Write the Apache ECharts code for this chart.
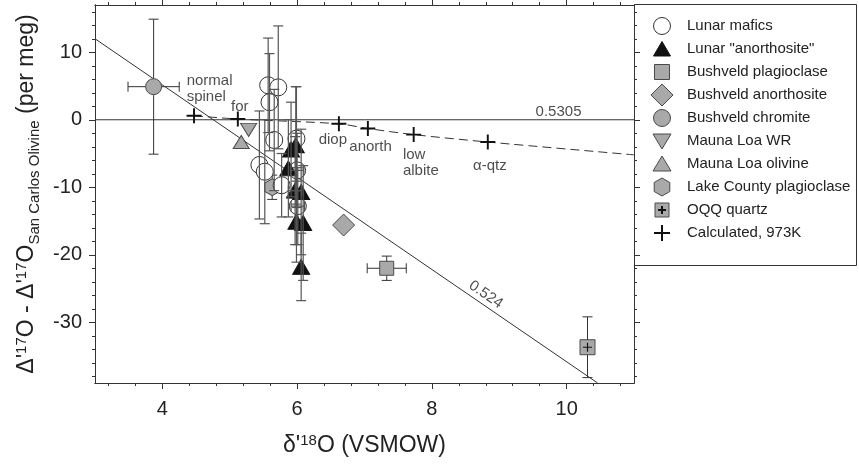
<!DOCTYPE html>
<html><head><meta charset="utf-8">
<script src="https://cdn.jsdelivr.net/npm/echarts@6/dist/echarts.min.js"></script>
<style>html,body{margin:0;padding:0;background:#fff}#c{width:859px;height:465px}</style>
</head><body><div id="c"></div>
<script>
// ---------- data ----------
const xTicksMajor = [4, 6, 8, 10];
const xTicksMinor = [3.2,3.6,4.0,4.4,4.8,5.2,5.6,6.0,6.4,6.8,7.2,7.6,8.0,8.4,8.8,9.2,9.6,10.0,10.4,10.8];
const yTicksMajor = [-30, -20, -10, 0, 10];
const yTicksMinor = [-38,-36,-34,-32,-30,-28,-26,-24,-22,-20,-18,-16,-14,-12,-10,-8,-6,-4,-2,0,2,4,6,8,10,12,14,16];

// [x, y, yErr, xErr]
const lunarMafics = [
  [5.57, 5.1, 7.0, 0], [5.72, 4.8, 9.1, 0], [5.59, 2.6, 7.2, 0], [5.66, -3.0, 7.5, 0],
  [5.99, -2.8, 7.7, 0], [5.44, -6.7, 8.0, 0], [5.52, -7.7, 7.7, 0], [5.77, -9.7, 4.7, 0],
  [6.00, -7.5, 5.5, 0.1], [6.01, -12.8, 5.7, 0.1]
];
const lunarAnorthosite = [
  [5.91, -4.4, 7.0, 0], [5.98, -3.8, 8.7, 0], [5.87, -7.2, 7.2, 0], [5.97, -10.5, 8.0, 0.1],
  [6.06, -10.7, 9.3, 0], [5.99, -15.1, 6.0, 0], [6.09, -15.3, 8.5, 0], [6.06, -21.8, 5.0, 0]
];
const bushveldPlagioclase = [[7.33, -22.0, 1.8, 0.29]];
const bushveldAnorthosite = [[6.69, -15.6, 0, 0]];
const bushveldChromite = [[3.87, 4.9, 10.0, 0.38]];
const maunaLoaWR = [[5.28, -1.5, 0, 0]];
const maunaLoaOlivine = [[5.17, -3.3, 0, 0]];
const lakeCountyPlagioclase = [[5.63, -10.0, 1.8, 0]];
const oqqQuartz = [[10.31, -33.7, 4.5, 0]];
const calculated973K = [[4.47, 0.6], [5.12, 0.1], [6.62, -0.6], [7.05, -1.3], [7.73, -2.2], [8.83, -3.3]];
const calculatedCurve = [[4.47, 0.6], [5.12, 0.1], [6.62, -0.6], [7.05, -1.3], [7.73, -2.2], [8.83, -3.3], [11, -5.2]];
const line05305 = [[3, 0], [11, 0]];
const line0524 = [[3, 12], [10.46, -39]];
// [x, y, text, align]
const annotations = [
  [4.36, 4.6, 'normal\nspinel', 'left'],
  [5.15, 1.9, 'for', 'center'],
  [6.53, -3.05, 'diop', 'center'],
  [7.09, -4.05, 'anorth', 'center'],
  [7.57, -6.4, 'low\nalbite', 'left'],
  [8.86, -6.9, 'α-qtz', 'center'],
  [9.88, 1.1, '0.5305', 'center']
];
const slopeLabel = [8.80, -25.9, '0.524'];
const legendNames = ['Lunar mafics', 'Lunar "anorthosite"', 'Bushveld plagioclase', 'Bushveld anorthosite',
  'Bushveld chromite', 'Mauna Loa WR', 'Mauna Loa olivine', 'Lake County plagioclase', 'OQQ quartz', 'Calculated, 973K'];

// ---------- styles ----------
const FONT = '"Liberation Sans", Arial, Helvetica, sans-serif';
const INK = '#222';
const GRAY = '#a9a9a9';
const EDGE = '#4a4a4a';
const HEX = 'path://M0,-1L0.866,-0.5L0.866,0.5L0,1L-0.866,0.5L-0.866,-0.5Z';
const PLUS = 'path://M-0.13,-1L0.13,-1L0.13,-0.13L1,-0.13L1,0.13L0.13,0.13L0.13,1L-0.13,1L-0.13,0.13L-1,0.13L-1,-0.13L-0.13,-0.13Z';

const richTitle = {
  m: { fontSize: 23, fontFamily: FONT, color: INK, verticalAlign: 'bottom', padding: [0, 0, 4, 0] },
  sup: { fontSize: 15, fontFamily: FONT, color: INK, verticalAlign: 'bottom', padding: [0, 0, 13, 0] },
  sub: { fontSize: 15, fontFamily: FONT, color: INK, verticalAlign: 'bottom', padding: [0, 0, 0, 0] }
};

function xy(arr) { return arr.map(d => [d[0], d[1]]); }

function errorBars(capHalf, color, width) {
  return function (params, api) {
    const x = api.value(0), y = api.value(1), ey = api.value(2), ex = api.value(3);
    const st = { stroke: color, lineWidth: width, fill: null };
    const ch = [];
    if (ey > 0) {
      const t = api.coord([x, y + ey]), b = api.coord([x, y - ey]);
      ch.push({ type: 'line', shape: { x1: t[0], y1: t[1], x2: b[0], y2: b[1] }, style: st });
      ch.push({ type: 'line', shape: { x1: t[0] - capHalf, y1: t[1], x2: t[0] + capHalf, y2: t[1] }, style: st });
      ch.push({ type: 'line', shape: { x1: b[0] - capHalf, y1: b[1], x2: b[0] + capHalf, y2: b[1] }, style: st });
    }
    if (ex > 0) {
      const l = api.coord([x - ex, y]), r = api.coord([x + ex, y]);
      ch.push({ type: 'line', shape: { x1: l[0], y1: l[1], x2: r[0], y2: r[1] }, style: st });
      ch.push({ type: 'line', shape: { x1: l[0], y1: l[1] - capHalf, x2: l[0], y2: l[1] + capHalf }, style: st });
      ch.push({ type: 'line', shape: { x1: r[0], y1: r[1] - capHalf, x2: r[0], y2: r[1] + capHalf }, style: st });
    }
    return { type: 'group', children: ch };
  };
}

const axisLineStyle = { color: '#333', width: 1 };
function xAxisDef(pos, ticks, len, withLabel) {
  const a = {
    type: 'value', position: pos, min: 3, max: 11, gridIndex: 0,
    axisLine: { show: true, onZero: false, lineStyle: axisLineStyle },
    axisTick: { show: true, inside: false, length: len, customValues: ticks, lineStyle: axisLineStyle },
    axisLabel: { show: false },
    splitLine: { show: false }
  };
  if (withLabel) {
    a.axisLabel = { show: true, customValues: ticks, fontSize: 20, fontFamily: FONT, color: INK, margin: 16 };
    a.name = "{m|δ'}{sup|18}{m|O (VSMOW)}";
    a.nameLocation = 'middle';
    a.nameGap = 50;
    a.nameTextStyle = { rich: richTitle };
  }
  return a;
}
function yAxisDef(pos, ticks, len, withLabel) {
  const a = {
    type: 'value', position: pos, min: -39, max: 17, gridIndex: 0,
    axisLine: { show: true, onZero: false, lineStyle: axisLineStyle },
    axisTick: { show: true, inside: false, length: len, customValues: ticks, lineStyle: axisLineStyle },
    axisLabel: { show: false },
    splitLine: { show: false }
  };
  if (withLabel) {
    a.axisLabel = { show: true, customValues: ticks, fontSize: 20, fontFamily: FONT, color: INK, margin: 13 };
    a.name = "{m|Δ'}{sup|17}{m|O - Δ'}{sup|17}{m|O}{sub|San Carlos Olivine}{m| (per meg)}";
    a.nameLocation = 'middle';
    a.nameRotate = 90;
    a.nameGap = 50;
    a.nameTextStyle = { rich: richTitle };
  }
  return a;
}

function scatter(name, arr, symbol, size, fill, extra) {
  const s = Object.assign({
    name: name, type: 'scatter', xAxisIndex: 0, yAxisIndex: 0, z: 3,
    data: xy(arr), symbol: symbol, symbolSize: size,
    itemStyle: { color: fill, borderColor: EDGE, borderWidth: 1 },
    emphasis: { disabled: true }
  }, extra || {});
  s.itemStyle.opacity = 1;
  return s;
}

// ---------- legend (graphic) ----------
const LX = 662, LY0 = 26, LDY = 23;
const legendChildren = [
  { type: 'rect', shape: { x: 634.5, y: 4.5, width: 222, height: 261 }, style: { fill: '#fff', stroke: '#333', lineWidth: 1 } }
];
function ly(i) { return LY0 + i * LDY; }
const gs = { fill: GRAY, stroke: EDGE, lineWidth: 1 };
legendChildren.push({ type: 'circle', shape: { cx: LX, cy: ly(0), r: 8.5 }, style: { fill: '#fff', stroke: '#333', lineWidth: 1 } });
legendChildren.push({ type: 'polygon', shape: { points: [[LX, ly(1) - 7.5], [LX + 8.5, ly(1) + 7], [LX - 8.5, ly(1) + 7]] }, style: { fill: '#111', stroke: '#111', lineWidth: 1 } });
legendChildren.push({ type: 'rect', shape: { x: LX - 7.5, y: ly(2) - 7.5, width: 15, height: 15 }, style: gs });
legendChildren.push({ type: 'polygon', shape: { points: [[LX, ly(3) - 11], [LX + 11, ly(3)], [LX, ly(3) + 11], [LX - 11, ly(3)]] }, style: gs });
legendChildren.push({ type: 'circle', shape: { cx: LX, cy: ly(4), r: 8.5 }, style: gs });
legendChildren.push({ type: 'polygon', shape: { points: [[LX - 9, ly(5) - 7], [LX + 9, ly(5) - 7], [LX, ly(5) + 8]] }, style: gs });
legendChildren.push({ type: 'polygon', shape: { points: [[LX, ly(6) - 8], [LX + 9, ly(6) + 7], [LX - 9, ly(6) + 7]] }, style: gs });
legendChildren.push({ type: 'polygon', shape: { points: [[LX, ly(7) - 9], [LX + 7.8, ly(7) - 4.5], [LX + 7.8, ly(7) + 4.5], [LX, ly(7) + 9], [LX - 7.8, ly(7) + 4.5], [LX - 7.8, ly(7) - 4.5]] }, style: gs });
legendChildren.push({ type: 'rect', shape: { x: LX - 7, y: ly(8) - 7, width: 14, height: 14 }, style: gs });
legendChildren.push({ type: 'line', shape: { x1: LX - 4, y1: ly(8), x2: LX + 4, y2: ly(8) }, style: { stroke: '#111', lineWidth: 2 } });
legendChildren.push({ type: 'line', shape: { x1: LX, y1: ly(8) - 4, x2: LX, y2: ly(8) + 4 }, style: { stroke: '#111', lineWidth: 2 } });
legendChildren.push({ type: 'line', shape: { x1: LX - 8, y1: ly(9), x2: LX + 8, y2: ly(9) }, style: { stroke: '#111', lineWidth: 2 } });
legendChildren.push({ type: 'line', shape: { x1: LX, y1: ly(9) - 8, x2: LX, y2: ly(9) + 8 }, style: { stroke: '#111', lineWidth: 2 } });
legendNames.forEach((n, i) => {
  legendChildren.push({ type: 'text', x: 687, y: ly(i), style: { text: n, font: '15px ' + FONT, fill: INK, textVerticalAlign: 'middle', verticalAlign: 'middle', align: 'left' } });
});

const option = {
  animation: false,
  backgroundColor: '#fff',
  textStyle: { fontFamily: FONT },
  grid: { left: 95, top: 5, width: 539, height: 378, containLabel: false },
  xAxis: [
    xAxisDef('bottom', xTicksMajor, 6, true),
    xAxisDef('bottom', xTicksMinor, 3, false),
    xAxisDef('top', xTicksMajor, 6, false),
    xAxisDef('top', xTicksMinor, 3, false)
  ],
  yAxis: [
    yAxisDef('left', yTicksMajor, 6, true),
    yAxisDef('left', yTicksMinor, 3, false),
    yAxisDef('right', yTicksMajor, 6, false),
    yAxisDef('right', yTicksMinor, 3, false)
  ],
  series: [
    { type: 'line', data: line05305, symbol: 'none', z: 1, lineStyle: { color: '#333', width: 1 }, silent: true },
    { type: 'line', data: line0524, symbol: 'none', z: 1, lineStyle: { color: '#333', width: 1 }, silent: true },
    { type: 'line', data: calculatedCurve, symbol: 'none', z: 1, smooth: 0.3, lineStyle: { color: '#333', width: 1, type: [9, 5] }, silent: true },
    {
      type: 'custom', z: 2, silent: true, renderItem: errorBars(5, '#333', 1),
      encode: { x: 0, y: 1 },
      data: [].concat(bushveldPlagioclase, bushveldChromite, lakeCountyPlagioclase, oqqQuartz)
    },
    scatter('Bushveld chromite', bushveldChromite, 'circle', 16, GRAY),
    scatter('Bushveld plagioclase', bushveldPlagioclase, 'rect', 14, GRAY),
    scatter('Bushveld anorthosite', bushveldAnorthosite, 'diamond', 22, GRAY),
    scatter('OQQ quartz', oqqQuartz, 'rect', 15, GRAY),
    scatter('OQQ quartz', oqqQuartz, PLUS, 9, '#111', { z: 4, itemStyle: { color: '#111', borderWidth: 0 } }),
    scatter('Mauna Loa WR', maunaLoaWR, 'triangle', [16, 13], GRAY, { symbolRotate: 180 }),
    scatter('Mauna Loa olivine', maunaLoaOlivine, 'triangle', [16, 13], GRAY),
    scatter('Lake County plagioclase', lakeCountyPlagioclase, HEX, [15, 17], GRAY),
    scatter('Lunar mafics', lunarMafics, 'circle', 17, '#fff', { itemStyle: { color: '#fff', borderColor: '#333', borderWidth: 1 } }),
    scatter('Lunar "anorthosite"', lunarAnorthosite, 'triangle', [17, 15], '#111', { itemStyle: { color: '#111', borderColor: '#111', borderWidth: 1 } }),
    {
      type: 'custom', z: 4, silent: true, renderItem: errorBars(5, '#555', 1.2),
      encode: { x: 0, y: 1 }, data: [].concat(lunarMafics, lunarAnorthosite)
    },
    scatter('Calculated, 973K', calculated973K, PLUS, 15, '#111', { z: 5, itemStyle: { color: '#111', borderWidth: 0 } }),
    {
      type: 'scatter', z: 6, silent: true, symbolSize: 0,
      data: annotations.map(a => ({
        value: [a[0], a[1]],
        label: { show: true, position: 'inside', formatter: a[2], align: a[3], verticalAlign: 'middle',
          fontSize: 15, lineHeight: 16, fontFamily: FONT, color: INK }
      })).concat([{
        value: [slopeLabel[0], slopeLabel[1]],
        label: { show: true, position: 'inside', formatter: slopeLabel[2], align: 'center', verticalAlign: 'middle',
          rotate: -34.4, fontSize: 15, fontFamily: FONT, color: INK }
      }])
    }
  ],
  graphic: [{ type: 'group', z: 100, children: legendChildren }]
};

const chart = echarts.init(document.getElementById('c'));
chart.setOption(option);
</script>
</body></html>
